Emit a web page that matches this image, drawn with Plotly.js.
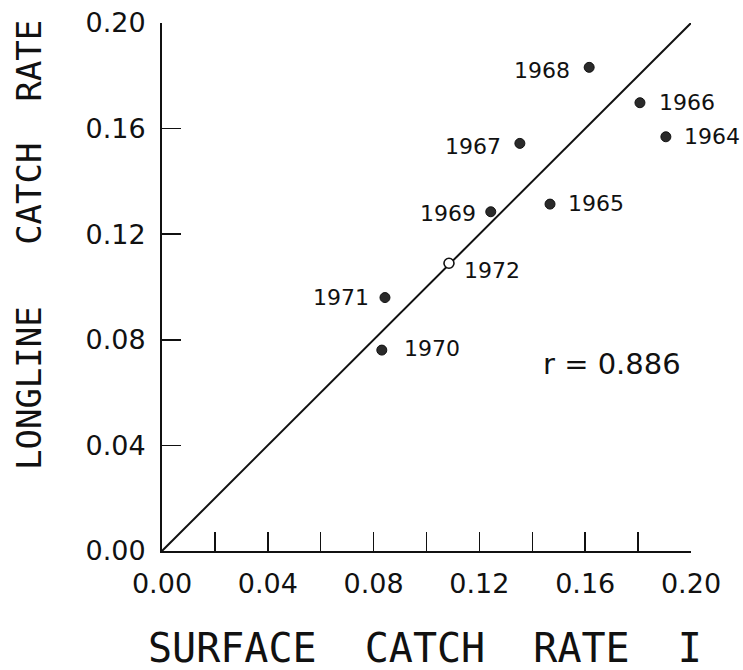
<!DOCTYPE html>
<html>
<head>
<meta charset="utf-8">
<script src="https://cdn.plot.ly/plotly-3.0.1.min.js"></script>
<style>html,body{margin:0;padding:0;background:#fff;}#chart{width:743px;height:670px;}</style>
</head>
<body>
<div id="chart"></div>
<script>
// ---- data ----
const years        = ['1964', '1965', '1966', '1967', '1968', '1969', '1970', '1971', '1972'];
const surfaceRate  = [0.1905, 0.1467, 0.1807, 0.1353, 0.1615, 0.1243, 0.0831, 0.0843, 0.1085];
const longlineRate = [0.1569, 0.1314, 0.1698, 0.1544, 0.1832, 0.1285, 0.0761, 0.0960, 0.1090];
const openYears    = ['1972'];
const fitLineX     = [0, 0.20];
const fitLineY     = [0, 0.20];
const rText        = 'r = 0.886';
const xTickVals    = [0, 0.02, 0.04, 0.06, 0.08, 0.10, 0.12, 0.14, 0.16, 0.18, 0.20];
const xTickText    = ['0.00', '', '0.04', '', '0.08', '', '0.12', '', '0.16', '', '0.20'];
const yTickVals    = [0, 0.04, 0.08, 0.12, 0.16, 0.20];
const yTickText    = ['0.00', '0.04', '0.08', '0.12', '0.16', '0.20'];
const xTitle       = 'SURFACE\u00A0\u00A0CATCH\u00A0\u00A0RATE\u00A0\u00A0I';
const yTitle       = 'LONGLINE\u00A0\u00A0\u00A0CATCH\u00A0\u00A0RATE';

// ---- label placement (style only) ----
const labelStyle = {
  '1964': {side: 'left',  dx: 16,  dy: 0},
  '1965': {side: 'left',  dx: 16,  dy: 1},
  '1966': {side: 'left',  dx: 17,  dy: 0},
  '1967': {side: 'right', dx: -17, dy: -3},
  '1968': {side: 'right', dx: -17, dy: -3},
  '1969': {side: 'right', dx: -13, dy: -2},
  '1970': {side: 'left',  dx: 20,  dy: 2},
  '1971': {side: 'right', dx: -14, dy: 0},
  '1972': {side: 'left',  dx: 13,  dy: -7}
};

const ink = '#111111';
const filledX = [], filledY = [], openX = [], openY = [];
years.forEach((yr, i) => {
  if (openYears.includes(yr)) { openX.push(surfaceRate[i]); openY.push(longlineRate[i]); }
  else { filledX.push(surfaceRate[i]); filledY.push(longlineRate[i]); }
});

const traces = [
  {x: fitLineX, y: fitLineY, mode: 'lines', line: {color: ink, width: 2}, hoverinfo: 'skip', cliponaxis: false},
  {x: filledX, y: filledY, mode: 'markers', cliponaxis: false,
   marker: {size: 10, color: '#2a2a2a', line: {color: ink, width: 1}}},
  {x: openX, y: openY, mode: 'markers', cliponaxis: false,
   marker: {size: 10, color: '#ffffff', line: {color: ink, width: 1.6}}}
];

const annotations = years.map((yr, i) => {
  const s = labelStyle[yr];
  return {x: surfaceRate[i], y: longlineRate[i], xref: 'x', yref: 'y', text: yr, showarrow: false,
          xanchor: s.side === 'left' ? 'left' : 'right', yanchor: 'middle',
          xshift: s.dx, yshift: s.dy,
          font: {family: 'DejaVu Sans', size: 22, color: ink}};
});
annotations.push({x: 0.170, y: 0.0708, xref: 'x', yref: 'y', text: rText, showarrow: false,
  xanchor: 'center', yanchor: 'middle', font: {family: 'DejaVu Sans', size: 29, color: ink}});
annotations.push({x: 0.497, y: -0.184, xref: 'paper', yref: 'paper', text: xTitle, showarrow: false,
  xanchor: 'center', yanchor: 'middle', font: {family: 'DejaVu Sans Mono', size: 40, color: ink}});
annotations.push({x: -0.2514, y: 0.5795, xref: 'paper', yref: 'paper', text: yTitle, showarrow: false,
  textangle: -90, xanchor: 'center', yanchor: 'middle', font: {family: 'DejaVu Sans Mono', size: 34, color: ink}});

const axisCommon = {
  showgrid: false, zeroline: false, showline: true, linecolor: ink, linewidth: 2,
  ticks: 'inside', ticklen: 19, tickwidth: 1.5, tickcolor: ink, tickmode: 'array',
  tickfont: {family: 'DejaVu Sans', size: 27, color: ink}, mirror: false, fixedrange: true
};

const layout = {
  width: 743, height: 670,
  margin: {l: 162, r: 52, t: 23, b: 119, pad: 0},
  paper_bgcolor: '#ffffff', plot_bgcolor: '#ffffff',
  showlegend: false,
  xaxis: Object.assign({}, axisCommon, {range: [0, 0.20], tickvals: xTickVals, ticktext: xTickText, ticklabelstandoff: 8}),
  yaxis: Object.assign({}, axisCommon, {range: [0, 0.20], tickvals: yTickVals, ticktext: yTickText, ticklabelstandoff: 9}),
  annotations: annotations
};

Plotly.newPlot('chart', traces, layout, {staticPlot: true, displayModeBar: false});
</script>
</body>
</html>
